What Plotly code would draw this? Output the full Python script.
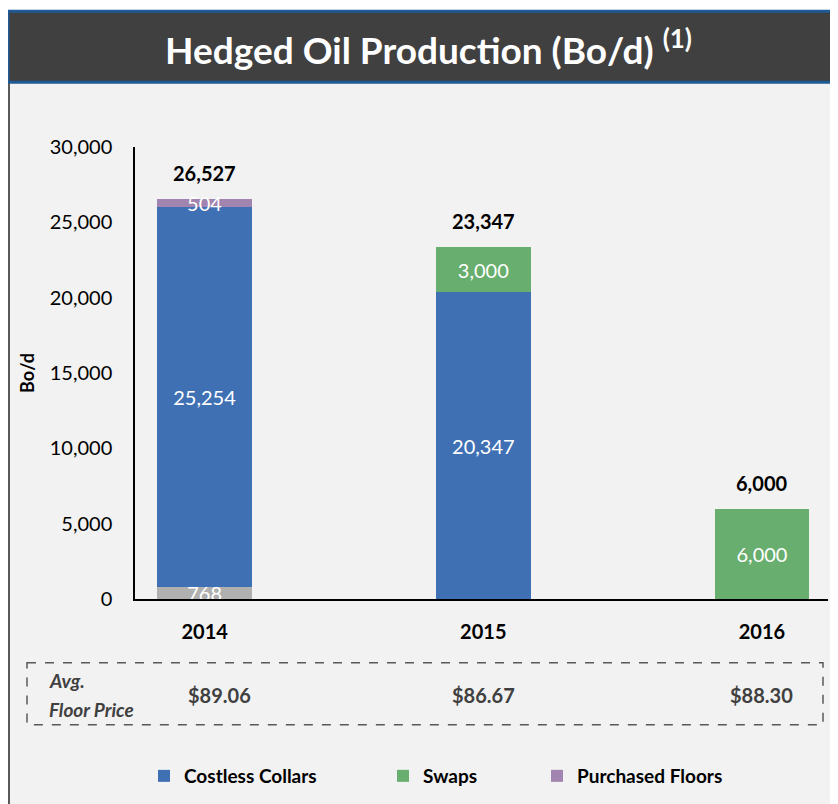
import plotly.graph_objects as go

# data
years = ['2014', '2015', '2016']
other = [768, None, None]            # grey base segment (no legend entry)
costless_collars = [25254, 20347, None]
swaps = [None, 3000, 6000]
purchased_floors = [504, None, None]
totals = [26527, 23347, 6000]
floor_prices = ['$89.06', '$86.67', '$88.30']
y_ticks = [0, 5000, 10000, 15000, 20000, 25000, 30000]

OFF = 8  # page body margin
W, H = 838 - OFF, 804 - OFF
# plot area in screenshot pixels
L, R, T, B = 135, 828, 147, 600
FONT = 'Lato'


def px(x):
    return (x - L) / (R - L)


def py(y):
    return (B - y) / (B - T)


def lbl(vals):
    return [None if v is None else f'{v:,}' for v in vals]


def bar(name, vals, color, legend=None, show=True):
    return go.Bar(
        x=years, y=vals, name=name, marker=dict(color=color, line=dict(width=0)),
        text=lbl(vals), textposition='inside', insidetextanchor='middle',
        textangle=0, constraintext='none', cliponaxis=False,
        textfont=dict(family=FONT, size=20, color='white'),
        width=0.34, showlegend=show, legend=legend, hoverinfo='skip',
    )


fig = go.Figure()
fig.add_trace(bar('Other', other, '#B0B0B0', show=False))
fig.add_trace(bar('Costless Collars', costless_collars, '#3F70B4', legend='legend'))
fig.add_trace(bar('Swaps', swaps, '#68AE6E', legend='legend2'))
fig.add_trace(bar('Purchased Floors', purchased_floors, '#A184AF', legend='legend3'))

# totals above bars
for i, t in enumerate(totals):
    fig.add_annotation(x=i, y=t, text=f'<b>{t:,}</b>', showarrow=False,
                       xanchor='center', yanchor='bottom', yshift=12,
                       font=dict(family=FONT, size=20, color='black'))

# avg floor prices row
for i, p in enumerate(floor_prices):
    fig.add_annotation(x=i, y=py(696), yref='paper', text=f'<b>{p}</b>',
                       showarrow=False, xshift=15 if i == 0 else 0,
                       xanchor='center', yanchor='middle',
                       font=dict(family=FONT, size=20, color='#404040'))
fig.add_annotation(x=px(47), y=py(682), xref='paper', yref='paper', xanchor='left',
                   yanchor='middle', text='<b><i>Avg.</i></b>', showarrow=False,
                   font=dict(family=FONT, size=19, color='#404040'))
fig.add_annotation(x=px(47), y=py(711), xref='paper', yref='paper', xanchor='left',
                   yanchor='middle', text='<b><i>Floor Price</i></b>', showarrow=False,
                   font=dict(family=FONT, size=19, color='#404040'))

# title
fig.add_annotation(x=px(428), y=py(47), xref='paper', yref='paper',
                   xanchor='center', yanchor='middle',
                   text='<b>Hedged Oil Production (Bo/d) <sup>(1)</sup></b>', showarrow=False,
                   font=dict(family=FONT, size=37, color='white'))

shapes = [
    # light grey panel
    dict(type='rect', xref='paper', yref='paper', x0=px(8), x1=px(850), y0=py(82), y1=py(820),
         fillcolor='#F2F2F2', line=dict(width=0), layer='below'),
    dict(type='line', xref='paper', yref='paper', x0=px(9), x1=px(9), y0=py(82), y1=py(820),
         line=dict(color='#595959', width=2)),
    # title bar
    dict(type='rect', xref='paper', yref='paper', x0=px(8), x1=px(850), y0=py(11), y1=py(82),
         fillcolor='#404040', line=dict(color='#1F5A94', width=3)),
    # floor price box
    dict(type='rect', xref='paper', yref='paper', x0=px(27), x1=px(823), y0=py(664), y1=py(726),
         line=dict(color='#595959', width=1.5, dash='dash')),
]

leg = dict(orientation='h', yanchor='middle', xanchor='left', bgcolor='rgba(0,0,0,0)',
           font=dict(family=FONT, size=19, color='black', weight='bold'), itemclick=False)
fig.update_layout(
    width=W, height=H,
    margin=dict(l=L - OFF, r=838 - R, t=T - OFF, b=804 - B),
    paper_bgcolor='white', plot_bgcolor='rgba(0,0,0,0)',
    barmode='stack', shapes=shapes,
    font=dict(family=FONT, size=20, color='black'),
    legend=dict(leg, x=px(144), y=py(776)),
    legend2=dict(leg, x=px(383), y=py(776)),
    legend3=dict(leg, x=px(537), y=py(776)),
)
fig.update_xaxes(type='category', range=[-0.25, 2.237], showline=True, linecolor='black',
                 linewidth=1.5, showgrid=False, ticks='outside', ticklen=14,
                 tickcolor='rgba(0,0,0,0)', tickfont=dict(family=FONT, size=20),
                 ticktext=[f'<b>{y}</b>' for y in years], tickvals=years)
fig.update_yaxes(range=[0, 30000], tickvals=y_ticks, tickformat=',', showline=True,
                 linecolor='black', linewidth=1.5, showgrid=False, zeroline=False,
                 ticks='outside', ticklen=17, tickcolor='rgba(0,0,0,0)',
                 tickfont=dict(family=FONT, size=20),
                 title=dict(text='<b>Bo/d</b>', standoff=10, font=dict(family=FONT, size=18)))

fig.write_html('out.html')
